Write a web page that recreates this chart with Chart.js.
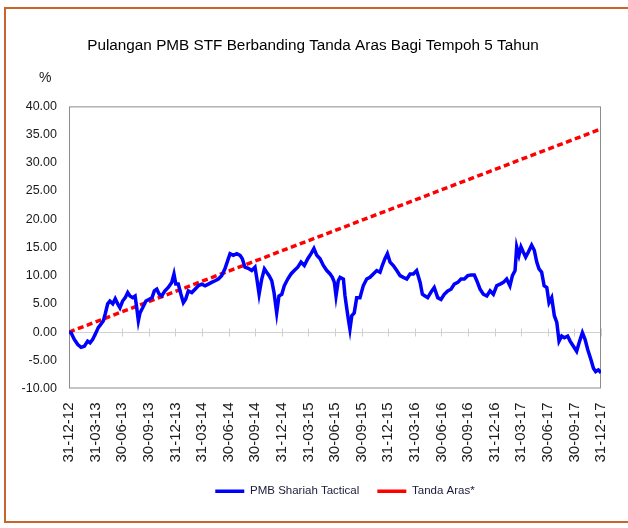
<!DOCTYPE html>
<html>
<head>
<meta charset="utf-8">
<script src="https://cdn.jsdelivr.net/npm/chart.js@4"></script>
<style>
  body { margin: 0; background: #fff; }
  #wrap { position: relative; width: 628px; height: 528px; overflow: hidden; }
  #frame { position: absolute; left: 4px; top: 7px; width: 700px; height: 512px; border: 2px solid #c8662a; border-right: none; }
  canvas { position: absolute; left: 0; top: 0; }
</style>
</head>
<body>
<div id="wrap">
  <div id="frame"></div>
  <canvas id="returnsChart" width="628" height="528"></canvas>
</div>
<script>
// quarter-end labels and their position in weeks from 31-12-12
const quarterLabels = ["31-12-12", "31-03-13", "30-06-13", "30-09-13", "31-12-13", "31-03-14", "30-06-14",
  "30-09-14", "31-12-14", "31-03-15", "30-06-15", "30-09-15", "31-12-15", "31-03-16", "30-06-16",
  "30-09-16", "31-12-16", "31-03-17", "30-06-17", "30-09-17", "31-12-17"];
const quarterWeeks = [0, 13, 26, 39, 52, 65, 78, 91, 104, 117, 130, 143, 156, 169, 182, 195, 208, 221, 234, 247, 260];

// benchmark (Tanda Aras*) cumulative %, one value per quarter-end
const benchmark = [0.0, 1.8, 3.6, 5.4, 7.2, 9.0, 10.8, 12.6, 14.4, 16.2, 18.0,
  19.8, 21.6, 23.4, 25.2, 27.0, 28.8, 30.6, 32.4, 34.2, 36.0];

// PMB Shariah Tactical cumulative %
const fundWeeks = [
  0, 1.0, 2.6, 4.3, 5.9, 7.5, 9.1, 10.3, 11.6, 13.2,
  14.3, 15.6, 16.8, 17.7, 18.9, 20.0, 21.4, 22.6, 23.8, 24.9,
  26.2, 27.5, 28.7, 29.8, 31.1, 32.3, 33.1, 33.9, 34.7, 36.0,
  37.6, 39.2, 40.6, 41.7, 42.9, 44.1, 45.3, 46.9, 48.5, 50.2,
  51.3, 52.2, 53.4, 54.7, 55.9, 57.0, 58.3, 60.0, 61.6, 63.2,
  64.9, 66.5, 68.1, 69.7, 71.4, 73.0, 74.6, 76.2, 77.6, 78.7,
  80.3, 82.0, 83.6, 84.7, 86.0, 87.6, 89.3, 90.9, 91.7, 92.9,
  94.2, 95.5, 96.6, 97.8, 99.1, 100.2, 101.5, 102.6, 104.0, 105.2,
  106.9, 108.5, 110.1, 111.8, 113.4, 115.0, 116.7, 118.3, 119.7, 121.1,
  122.7, 124.3, 126.0, 127.6, 128.7, 129.7, 130.5, 131.6, 132.5, 134.1,
  134.9, 135.7, 136.5, 137.3, 138.2, 139.4, 140.6, 142.2, 143.8, 145.5,
  147.1, 148.7, 150.4, 152.0, 153.1, 154.4, 155.6, 156.9, 158.5, 160.2,
  161.8, 163.4, 165.1, 166.7, 168.3, 169.9, 171.6, 172.7, 174.0, 175.3,
  177.3, 178.5, 180.2, 181.8, 183.4, 185.1, 186.7, 188.3, 190.0, 191.6,
  193.2, 194.9, 196.5, 198.1, 199.3, 200.9, 202.5, 204.2, 205.8, 207.4,
  209.0, 210.7, 212.3, 213.9, 215.5, 216.7, 218.0, 218.8, 219.9, 220.9,
  222.0, 223.2, 224.5, 226.1, 227.4, 228.6, 229.7, 231.0, 232.2, 233.5,
  234.6, 235.9, 237.2, 238.4, 239.5, 240.8, 242.1, 243.7, 244.9, 246.5,
  248.1, 249.3, 250.9, 252.2, 253.5, 255.1, 256.3, 257.4, 258.7, 259.5,
  260.0
];
const fundReturns = [
  0.0, -0.1, -1.3, -2.2, -2.7, -2.5, -1.6, -1.9, -1.3, -0.1,
  0.8, 1.4, 2.0, 3.2, 5.0, 5.5, 5.0, 5.9, 5.0, 4.3,
  5.5, 6.1, 7.0, 6.4, 6.1, 6.4, 4.3, 2.0, 3.4, 4.3,
  5.5, 5.8, 6.1, 7.3, 7.6, 6.7, 6.4, 7.3, 7.9, 8.8,
  10.3, 8.5, 8.5, 6.7, 5.2, 5.8, 7.3, 7.0, 7.6, 8.2,
  8.5, 8.2, 8.5, 8.8, 9.1, 9.4, 10.0, 11.2, 12.7, 13.9,
  13.6, 13.9, 13.6, 13.0, 11.5, 11.3, 10.9, 11.5, 9.7, 6.7,
  9.4, 11.2, 10.6, 10.0, 9.1, 7.0, 3.4, 6.4, 6.7, 8.2,
  9.4, 10.3, 10.9, 11.5, 12.4, 11.8, 13.0, 13.9, 14.8, 13.6,
  13.0, 11.8, 10.9, 10.3, 9.7, 8.8, 6.4, 9.1, 9.7, 9.4,
  6.4, 4.3, 2.3, 0.5, 2.9, 3.4, 6.1, 6.1, 8.2, 9.4,
  9.7, 10.3, 10.9, 10.6, 11.8, 13.0, 13.9, 12.4, 11.8, 10.9,
  10.0, 9.7, 9.4, 10.3, 10.3, 10.9, 8.8, 6.7, 6.4, 6.1,
  7.3, 7.9, 6.1, 5.8, 6.7, 7.3, 7.6, 8.5, 8.8, 9.4,
  9.4, 10.0, 10.1, 10.1, 9.1, 7.6, 6.7, 6.4, 7.3, 6.7,
  8.2, 8.5, 8.8, 9.4, 8.2, 10.0, 10.9, 15.1, 13.6, 15.1,
  14.2, 13.3, 14.2, 15.4, 14.5, 12.4, 11.2, 10.6, 8.2, 7.9,
  5.2, 6.1, 2.9, 1.7, -1.6, -0.7, -1.0, -0.7, -1.6, -2.5,
  -3.4, -1.9, -0.1, -1.3, -3.1, -4.9, -6.4, -7.0, -6.7, -7.0,
  -7.2
];

const fontFamily = '"Liberation Sans", Arial, sans-serif';
Chart.defaults.font.family = fontFamily;
Chart.defaults.color = "#1a1a1a";

// plot box, zero line with quarter tick marks, and the "%" unit label
const framePlugin = {
  id: "frame",
  afterLayout(chart) {
    // nudge title and legend to where they sit in the original
    chart.titleBlock.left += 10;
    chart.titleBlock.right += 10;
    chart.legend.left += 42;
    chart.legend.right += 42;
  },
  beforeDatasetsDraw(chart) {
    const { ctx, chartArea: a, scales: { x, y } } = chart;
    ctx.save();
    const y0 = Math.round(y.getPixelForValue(0)) + 0.5;
    ctx.strokeStyle = "#d0d0d0";
    ctx.lineWidth = 1;
    ctx.beginPath();
    ctx.moveTo(a.left, y0);
    ctx.lineTo(a.right, y0);
    quarterWeeks.forEach(function (w) {
      const px = Math.round(x.getPixelForValue(w)) + 0.5;
      ctx.moveTo(px, y0 - 4);
      ctx.lineTo(px, y0 + 4);
    });
    ctx.stroke();
    ctx.strokeStyle = "#8c8c8c";
    ctx.strokeRect(a.left + 0.5, a.top + 0.5, a.width - 1, a.height - 1);
    ctx.fillStyle = "#1a1a1a";
    ctx.font = "14px " + fontFamily;
    ctx.textAlign = "left";
    ctx.textBaseline = "middle";
    ctx.fillText("%", a.left - 30, a.top - 28);
    ctx.restore();
  }
};

const ctx = document.getElementById("returnsChart").getContext("2d");
new Chart(ctx, {
  type: "line",
  data: {
    datasets: [
      {
        label: "PMB Shariah Tactical",
        data: fundWeeks.map((w, i) => ({ x: w, y: fundReturns[i] })),
        borderColor: "#0000ff",
        backgroundColor: "#0000ff",
        borderWidth: 3.5,
        pointRadius: 0,
        tension: 0,
      },
      {
        label: "Tanda Aras*",
        data: quarterWeeks.map((w, i) => ({ x: w, y: benchmark[i] })),
        borderColor: "#ff0000",
        backgroundColor: "#ff0000",
        borderWidth: 3.5,
        borderDash: [6, 3.5],
        pointRadius: 0,
        tension: 0,
      },
    ],
  },
  options: {
    responsive: false,
    animation: false,
    layout: { padding: { top: 26, left: 5, right: 27, bottom: 21 } },
    plugins: {
      title: {
        display: true,
        text: "Pulangan PMB STF Berbanding Tanda Aras Bagi Tempoh 5 Tahun",
        color: "#000",
        font: { size: 15.3, weight: "normal" },
        padding: { top: 11, bottom: 51 },
      },
      legend: {
        position: "bottom",
        labels: {
          usePointStyle: true,
          pointStyle: "line",
          pointStyleWidth: 29,
          padding: 18,
          font: { size: 11.5 },
          color: "#1a1a3a",
        },
      },
      tooltip: { enabled: false },
    },
    scales: {
      x: {
        type: "linear",
        min: 0,
        max: 260,
        afterBuildTicks: (scale) => { scale.ticks = quarterWeeks.map((v) => ({ value: v })); },
        afterFit: (scale) => {
          scale.height = 79;
          scale.paddingLeft = 0;
          scale.paddingRight = 0;
        },
        grid: { display: false, drawTicks: false },
        border: { display: false },
        ticks: {
          autoSkip: false,
          minRotation: 90,
          maxRotation: 90,
          padding: 14,
          font: { size: 15 },
          callback: (v, i) => quarterLabels[i],
        },
      },
      y: {
        min: -10,
        max: 40,
        afterFit: (scale) => { scale.width = 64; },
        grid: { display: false, drawTicks: false },
        border: { display: false },
        ticks: {
          stepSize: 5,
          padding: 12,
          font: { size: 12.5 },
          callback: (v) => v.toFixed(2),
        },
      },
    },
  },
  plugins: [framePlugin],
});
</script>
</body>
</html>
